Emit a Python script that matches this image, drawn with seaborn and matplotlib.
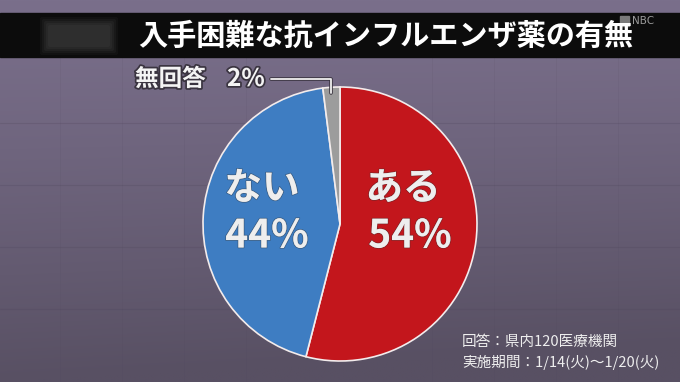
import numpy as np
import matplotlib
matplotlib.use("Agg")
import matplotlib.pyplot as plt
import matplotlib.patheffects as pe
from matplotlib.patches import FancyBboxPatch, Rectangle
import seaborn as sns

# ---- data ----
title = "入手困難な抗インフルエンザ薬の有無"
categories = ["ある", "ない", "無回答"]
values = [54, 44, 2]
pct_labels = ["54%", "44%", "2%"]
note_lines = ["回答：県内120医療機関", "実施期間：1/14(火)〜1/20(火)"]
colors = ["#c3161c", "#3e7dc2", "#9c9c9c"]

sns.set_theme(style="white")
plt.rcParams['font.family'] = ['Noto Sans CJK JP', 'DejaVu Sans']

W, H = 680, 382
fig = plt.figure(figsize=(W / 100, H / 100), dpi=100)

# ---- background gradient ----
bg = fig.add_axes([0, 0, 1, 1], zorder=0)
yy = np.linspace(0, 1, 200)[:, None]
xx = np.linspace(0, 1, 300)[None, :]
top = np.array([0x7a, 0x6f, 0x8b]) / 255
bot = np.array([0x58, 0x50, 0x63]) / 255
t = yy ** 1.2 + 0.12 * xx * yy
t = np.clip(t, 0, 1)
img = top[None, None, :] * (1 - t[..., None]) + bot[None, None, :] * t[..., None]
bg.imshow(img, extent=[0, W, H, 0], aspect="auto")
for gy in [123, 185, 247, 309]:
    bg.plot([0, W], [gy, gy], color="#4e465c", lw=0.8, alpha=0.25)
for gx in [60, 122, 184, 246, 432, 494, 556, 618]:
    bg.plot([gx, gx], [57, H], color="#4e465c", lw=0.6, alpha=0.12)
bg.set_xlim(0, W)
bg.set_ylim(H, 0)
bg.axis("off")

# title bar
bg.add_patch(Rectangle((0, 13), W, 44, color="#0c0c0c", zorder=3))
for pad, a in [(8, 0.15), (6, 0.2), (4, 0.25), (2, 0.3), (0, 0.35)]:
    bg.add_patch(FancyBboxPatch((50 - pad, 27 - pad), 58 + 2 * pad, 18 + 2 * pad,
                                boxstyle="round,pad=2", fc="#3a3a3a", ec="none",
                                alpha=a, zorder=4))

# ---- pie ----
cx, cy, r = 340, 224, 137
ax = fig.add_axes([(cx - r) / W, (H - cy - r) / H, 2 * r / W, 2 * r / H], zorder=2)
ax.pie(values, colors=colors, startangle=90, counterclock=False,
       wedgeprops=dict(edgecolor="#f3ecec", linewidth=1.2))
ax.set_xlim(-1, 1)
ax.set_ylim(-1, 1)
ax.set_aspect("equal")
ax.axis("off")

# ---- overlay for text ----
ov = fig.add_axes([0, 0, 1, 1], zorder=3)
ov.set_xlim(0, W)
ov.set_ylim(H, 0)
ov.axis("off")
ov.patch.set_alpha(0)

ov.text(386, 36, title, color="white", fontsize=21, fontweight="bold",
        ha="center", va="center")
ov.text(632, 21, "NBC", color="#9a9a9a", fontsize=7.5, ha="left",
        va="center", family=["DejaVu Sans"])
ov.add_patch(Rectangle((620, 16), 9, 10, color="#7a7a7a"))

lbl_fx = [pe.withStroke(linewidth=1.2, foreground="#33333366")]
ov.text(403, 188, categories[0], color="#eeeeee", fontsize=27, fontweight="bold",
        ha="center", va="center", path_effects=lbl_fx)
ov.text(410, 236, pct_labels[0], color="#eeeeee", fontsize=28, fontweight="bold",
        ha="center", va="center", path_effects=lbl_fx)
ov.text(262, 188, categories[1], color="#eeeeee", fontsize=27, fontweight="bold",
        ha="center", va="center", path_effects=lbl_fx)
ov.text(267, 236, pct_labels[1], color="#eeeeee", fontsize=28, fontweight="bold",
        ha="center", va="center", path_effects=lbl_fx)

# no-answer label and leader line
na_fx = [pe.withStroke(linewidth=2.5, foreground="#3a3440")]
ov.text(135, 79, categories[2], color="#f4f4f4",
        fontsize=17, fontweight="bold", ha="left", va="center",
        path_effects=na_fx)
ov.text(227, 79, pct_labels[2], color="#f4f4f4",
        fontsize=17.5, fontweight="bold", ha="left", va="center",
        path_effects=na_fx)
ov.plot([271, 331, 331], [79, 79, 93], color="#f0f0f0", lw=1.3,
        path_effects=[pe.withStroke(linewidth=2.6, foreground="#3a3440")])

# footnote
ov.text(462, 342, note_lines[0], color="#eeeeee", fontsize=10.5,
        ha="left", va="center")
ov.text(462, 362, note_lines[1], color="#eeeeee", fontsize=10.5,
        ha="left", va="center")

fig.savefig("out.png", dpi=100)
